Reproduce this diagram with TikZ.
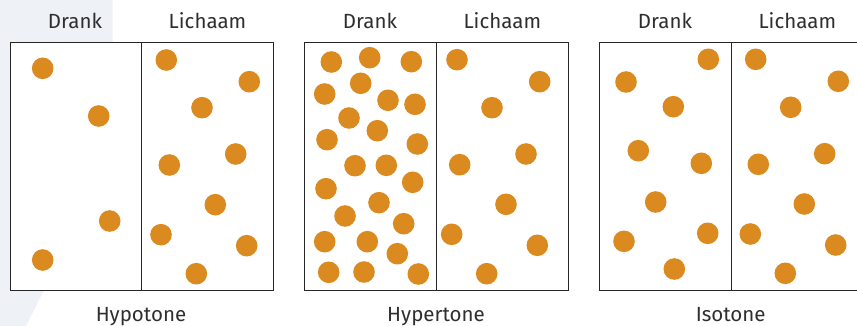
\documentclass[tikz,border=0pt]{standalone}
\usepackage{fontspec}
\setmainfont{Fira Sans}
\definecolor{dot}{HTML}{DA8A1F}
\definecolor{bg}{HTML}{EEF2F6}
\definecolor{txt}{HTML}{2E2E2E}
\definecolor{line}{HTML}{262626}
\begin{document}
\begin{tikzpicture}[x=1pt,y=-1pt,
  dotc/.style={fill=dot,draw=none},
  boxc/.style={draw=line,line width=0.9pt,fill=white},
  lbl/.style={text=txt,font=\fontsize{20.5}{24}\selectfont,anchor=base,inner sep=0pt}]
\useasboundingbox (0,0) rectangle (857,326);
\fill[bg] (0,0) -- (112.7,0) -- (112.7,154) -- (26,326) -- (0,326) -- cycle;
% boxes
\begin{scope}
\clip (0,0) rectangle (857,326);
\draw[boxc] (10,42) rectangle (273,290);
\draw[line,line width=0.9pt] (141.5,42) -- (141.5,290);
\draw[boxc] (304.3,42) rectangle (568.3,290);
\draw[line,line width=0.9pt] (436.3,42) -- (436.3,290);
\draw[boxc] (599.3,42) rectangle (863,290);
\draw[line,line width=0.9pt] (731.3,42) -- (731.3,290);
\end{scope}
% labels
\node[lbl] (d1) at (75,28.3) {Drank};
\node[lbl] (l1) at (207.5,28.3) {Lichaam};
\node[lbl] (t1) at (141,321.6) {Hypotone};
\node[lbl] (d2) at (370,28.3) {Drank};
\node[lbl] (l2) at (502.3,28.3) {Lichaam};
\node[lbl] (t2) at (436,321.6) {Hypertone};
\node[lbl] (d3) at (665,28.3) {Drank};
\node[lbl] (l3) at (797.3,28.3) {Lichaam};
\node[lbl] (t3) at (730.7,321.6) {Isotone};
% dots
\foreach \x/\y in {42.7/68.3, 98.7/116, 109.7/221, 42.7/260,
  166.3/60, 249.3/81.7, 202/107.7, 235.7/154, 169.3/165, 215.3/204.7, 161/234.7, 246.7/245.7, 196.3/273.7,
  457/59.7, 539.7/81.7, 492/107.7, 526/154, 459.7/164.7, 506/204.3, 451.7/234.3, 537.3/245.3, 486.7/273.7,
  331.3/62, 369.7/57.7, 411.3/61.7, 360.7/83.3, 324.7/94, 388/100.3, 415/104.3, 349/118, 377.3/130.7,
  327/139.7, 417.3/144, 355/165.7, 386.3/165.3, 412.7/182.3, 326/188.7, 379/202.7, 345/216, 403.7/223.7,
  324.7/241.7, 367.3/241.7, 397.3/253.7, 328.7/272.3, 364/272, 418.3/274,
  708.3/59.3, 626/82, 673.3/106.7, 638.3/150.7, 701.3/163.3, 655.7/202, 707.7/233.3, 624/241.3, 674.3/269,
  755.7/59.3, 838.3/81.3, 790.7/107.3, 824.7/153.7, 758.3/164.3, 804.3/204, 750.3/234, 835.7/245, 785.3/273.3}
  \fill[dotc] (\x,\y) circle (10.8);
\end{tikzpicture}
\end{document}
